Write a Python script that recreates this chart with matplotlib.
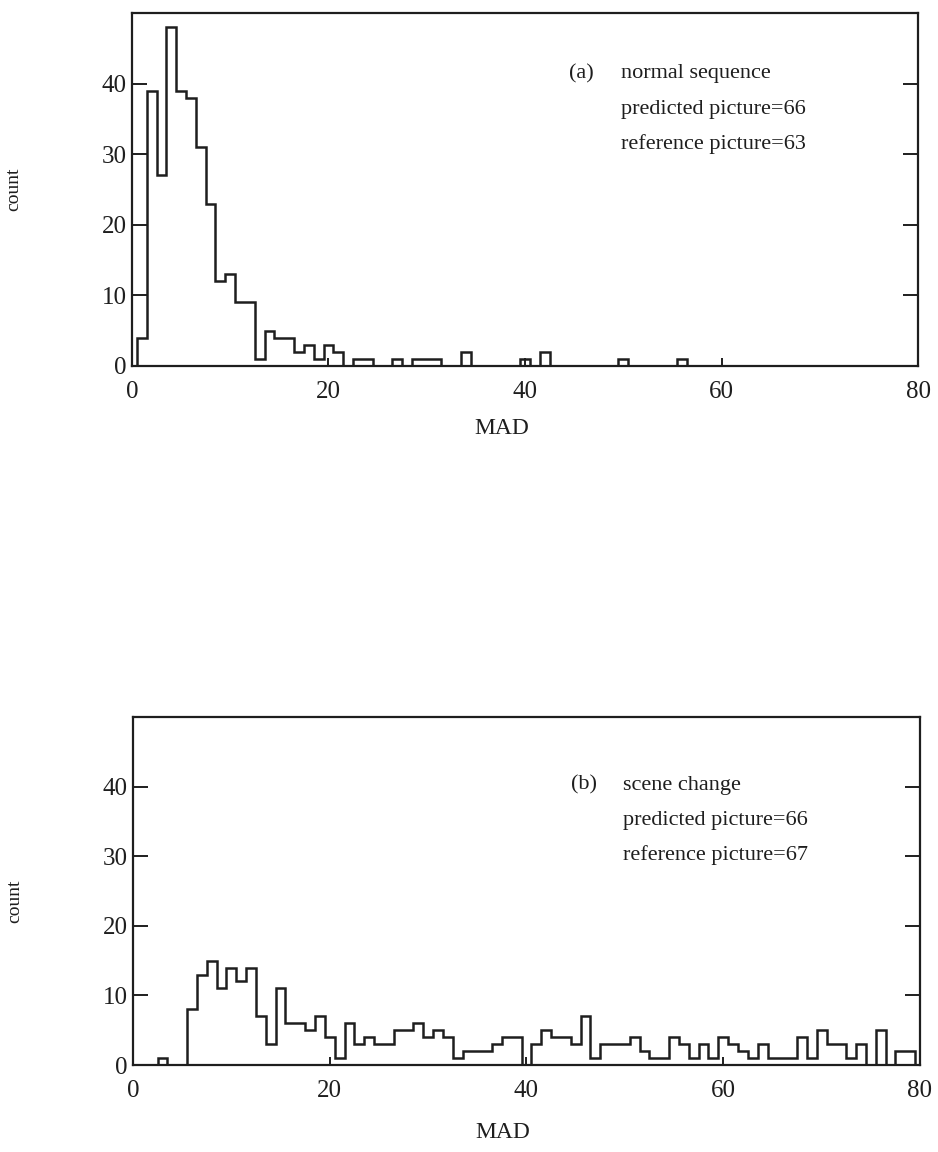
import numpy as np
import matplotlib
matplotlib.use('Agg')
import matplotlib.pyplot as plt

# MAD histogram counts, one value per unit bin centred on 1, 2, ..., 80
mad_bins = list(range(1, 81))

counts_normal = [4, 39, 27, 48, 39, 38, 31, 23, 12, 13,
                 9, 9, 1, 5, 4, 4, 2, 3, 1, 3,
                 2, 0, 1, 1, 0, 0, 1, 0, 1, 1,
                 1, 0, 0, 2, 0, 0, 0, 0, 0, 1,
                 0, 2, 0, 0, 0, 0, 0, 0, 0, 1,
                 0, 0, 0, 0, 0, 1, 0, 0, 0, 0,
                 0, 0, 0, 0, 0, 0, 0, 0, 0, 0,
                 0, 0, 0, 0, 0, 0, 0, 0, 0, 0]

counts_scene = [0, 0, 1, 0, 0, 8, 13, 15, 11, 14,
                12, 14, 7, 3, 11, 6, 6, 5, 7, 4,
                1, 6, 3, 4, 3, 3, 5, 5, 6, 4,
                5, 4, 1, 2, 2, 2, 3, 4, 4, 0,
                3, 5, 4, 4, 3, 7, 1, 3, 3, 3,
                4, 2, 1, 1, 4, 3, 1, 3, 1, 4,
                3, 2, 1, 3, 1, 1, 1, 4, 1, 5,
                3, 3, 1, 3, 0, 5, 0, 2, 2, 0]

x_ticks = [0, 20, 40, 60, 80]
y_ticks = [0, 10, 20, 30, 40]

notes_a = ['(a)', 'normal sequence', 'predicted picture=66', 'reference picture=63']
notes_b = ['(b)', 'scene change', 'predicted picture=66', 'reference picture=67']

# ── Style ──────────────────────────────────────────────────────────────────
plt.rcParams.update({
    'font.family': ['Liberation Serif', 'DejaVu Serif'],
    'font.size': 17,
    'axes.linewidth': 1.6,
})
INK = '#1e1e1e'

fig = plt.figure(figsize=(9.38, 11.52), dpi=100)
ax_a = fig.add_axes([0.1407, 0.6823, 0.838, 0.3064])
ax_b = fig.add_axes([0.1418, 0.0755, 0.839, 0.3021])

edges = np.array(mad_bins + [mad_bins[-1] + 1]) - 0.5


def draw_panel(ax, counts, notes, ylab_y, xlab_y, note_y):
    ax.stairs(counts, edges, color=INK, linewidth=1.8)
    ax.set_xlim(0, 80)
    ax.set_ylim(0, 50)
    ax.set_xticks(x_ticks)
    ax.set_yticks(y_ticks)
    ax.tick_params(axis='x', direction='in', length=6, width=1.4,
                   pad=11, colors=INK, labelsize=18)
    ax.tick_params(axis='y', direction='in', length=11, width=1.4,
                   pad=4, right=True, colors=INK, labelsize=18)
    for s in ax.spines.values():
        s.set_color(INK)
    ax.set_xlabel('MAD', fontsize=17, color=INK)
    ax.xaxis.set_label_coords(0.47, xlab_y)
    ax.set_ylabel('count', fontsize=14, color=INK)
    ax.yaxis.set_label_coords(-0.14, ylab_y)
    ax.text(44.5, note_y, notes[0], fontsize=16, color=INK, va='center')
    for i, line in enumerate(notes[1:]):
        ax.text(49.8, note_y - 5 * i, line, fontsize=16, color=INK, va='center')


draw_panel(ax_a, counts_normal, notes_a, 0.50, -0.147, 41.4)
draw_panel(ax_b, counts_scene, notes_b, 0.47, -0.164, 40.2)

plt.savefig('out.png', dpi=100)
plt.close()
